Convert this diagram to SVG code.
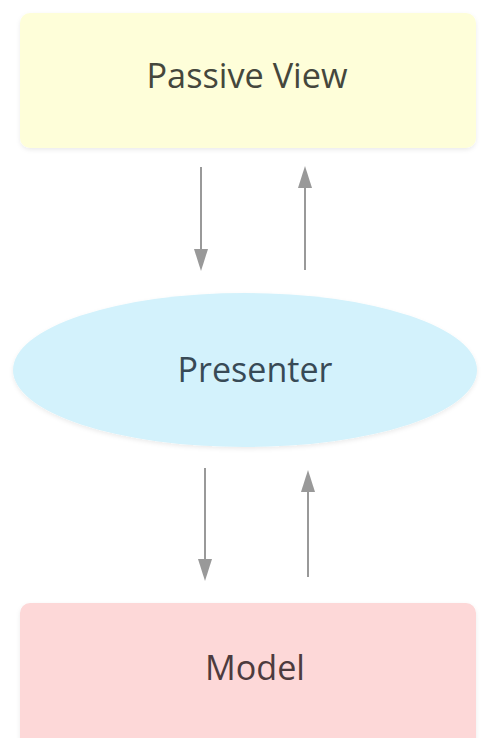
<svg xmlns="http://www.w3.org/2000/svg" width="481" height="738" viewBox="0 0 481 738">
  <defs>
    <filter id="shadow" x="-5%" y="-10%" width="110%" height="125%">
      <feDropShadow dx="0" dy="2" stdDeviation="2" flood-color="#000" flood-opacity="0.08"/>
    </filter>
  </defs>
  <style>
    .label { font-family: "Open Sans", "Liberation Sans", sans-serif; font-size: 34px; text-anchor: middle; }
    .conn { stroke: #999; stroke-width: 2; fill: none; }
    .head { fill: #999; }
  </style>
  <rect width="481" height="738" fill="#ffffff"/>
  <g id="passive-view">
    <rect x="20" y="13" width="456" height="135" rx="10" fill="#fefed9" filter="url(#shadow)"/>
    <text class="label" x="247" y="88" fill="#45473c" textLength="201" lengthAdjust="spacingAndGlyphs">Passive View</text>
  </g>
  <g id="presenter">
    <ellipse cx="245" cy="370" rx="232" ry="77" fill="#d3f2fc" filter="url(#shadow)"/>
    <text class="label" x="255" y="382" fill="#384a56" textLength="155" lengthAdjust="spacingAndGlyphs">Presenter</text>
  </g>
  <g id="model">
    <rect x="20" y="603" width="456" height="145" rx="10" fill="#fdd8d8" filter="url(#shadow)"/>
    <text class="label" x="255" y="680" fill="#4d3b3e" textLength="100" lengthAdjust="spacingAndGlyphs">Model</text>
  </g>
  <g id="connectors">
    <path class="conn" d="M201,167 L201,250"/>
    <path class="head" d="M194,249 L208,249 L201,271 Z"/>
    <path class="conn" d="M305,270 L305,187"/>
    <path class="head" d="M298,188 L312,188 L305,166 Z"/>
    <path class="conn" d="M205,468 L205,560"/>
    <path class="head" d="M198,559 L212,559 L205,581 Z"/>
    <path class="conn" d="M308,577 L308,491"/>
    <path class="head" d="M301,492 L315,492 L308,470 Z"/>
  </g>
</svg>
